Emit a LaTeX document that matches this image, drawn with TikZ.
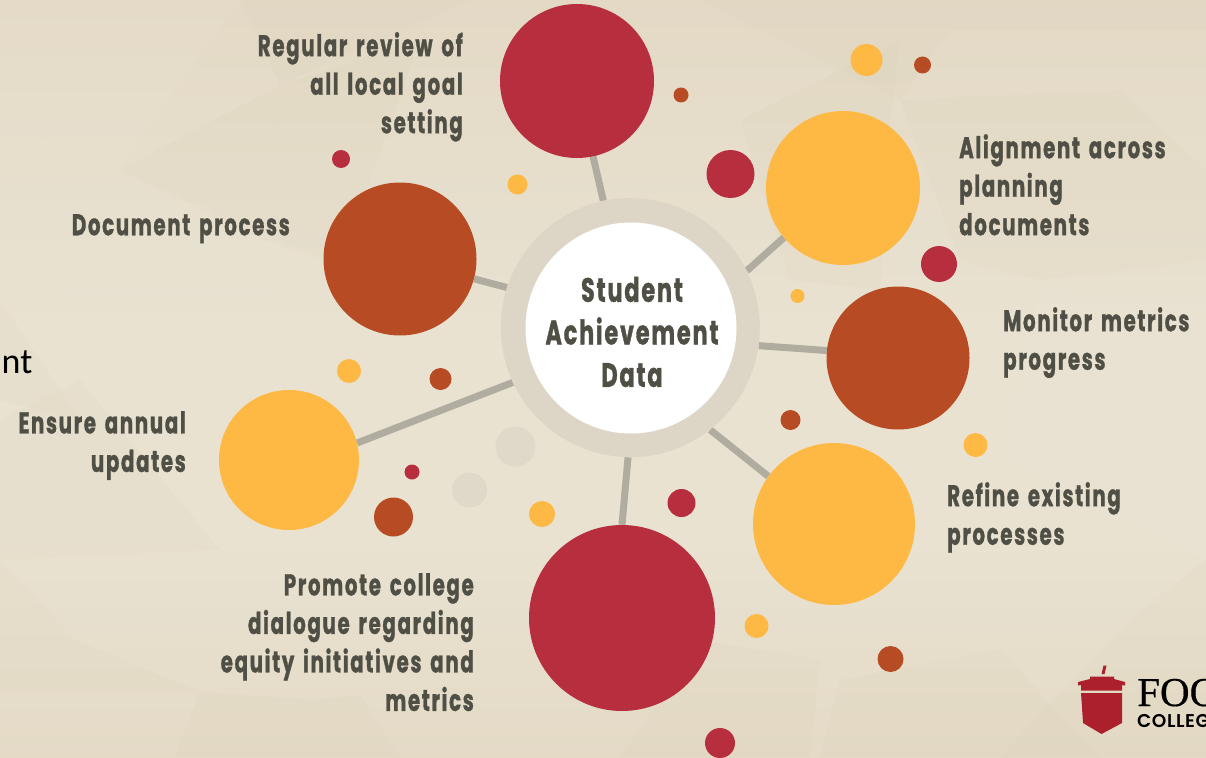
\documentclass[tikz,border=0pt]{standalone}
\usepackage{fontspec}
\usetikzlibrary{backgrounds}
\setmainfont{Carlito}
\newfontfamily\lblfont[FakeStretch=0.66,LetterSpace=5.5,WordSpace=1.5,FakeBold=1]{Poppins Bold}
\newfontfamily\logofont[FakeBold=0.4]{Liberation Serif}
\newfontfamily\logosans[LetterSpace=3]{Poppins SemiBold}
\definecolor{bgtop}{HTML}{E3D9C5}
\definecolor{bgmid}{HTML}{E9E2D1}
\definecolor{bgbot}{HTML}{E4DAC6}
\definecolor{facetd}{HTML}{D9CDB6}
\definecolor{facetl}{HTML}{EFE9DB}
\definecolor{cred}{HTML}{B72F3F}
\definecolor{corange}{HTML}{FEB945}
\definecolor{cbrown}{HTML}{B74B23}
\definecolor{cgrey}{HTML}{B0ACA0}
\definecolor{cring}{HTML}{DDD6C7}
\definecolor{cfaint}{HTML}{DFD9CA}
\definecolor{ctext}{HTML}{4F4F45}
\definecolor{clogo}{HTML}{AC1F2D}
\tikzset{
  dot/.style={circle,inner sep=0pt,draw=none,minimum size=#1*2pt},
  link/.style={draw=cgrey,line width=7pt},
  lbl/.style={font=\lblfont\fontsize{30}{38.5}\selectfont,text=ctext,inner sep=0pt},
  facet/.style={draw=none,fill opacity=.12}
}
\begin{document}
\begin{tikzpicture}[x=1pt,y=-1pt]
\useasboundingbox (0,0) rectangle (1206,757);
\clip (0,0) rectangle (1206,757);
% hub
\node[circle,fill=cring,draw=none,inner sep=0pt,minimum size=259pt] (hub) at (630.3,327.6) {};
% big circles
\node[dot=77,fill=cred] (review) at (577,81) {};
\node[dot=77,fill=corange] (align) at (843,188) {};
\node[dot=71.5,fill=cbrown] (monitor) at (898,358) {};
\node[dot=81,fill=corange] (refine) at (834,524) {};
\node[dot=93,fill=cred] (promote) at (622,618) {};
\node[dot=70,fill=corange] (ensure) at (289,460) {};
\node[dot=76.5,fill=cbrown] (document) at (400,259) {};
\begin{scope}[on background layer]
\shade[top color=bgtop,bottom color=bgmid] (0,0) rectangle (1206,330);
\shade[top color=bgmid,bottom color=bgmid] (0,330) rectangle (1206,540);
\shade[top color=bgmid,bottom color=bgbot] (0,540) rectangle (1206,757);
% background facets
\fill[facet,facetl] (0,0) -- (240,0) -- (120,170) -- (0,120) -- cycle;
\fill[facet,facetd] (120,170) -- (280,85) -- (265,240) -- cycle;
\fill[facet,facetd] (280,85) -- (420,40) -- (340,265) -- (265,240) -- cycle;
\fill[facet,facetd] (240,0) -- (470,0) -- (280,85) -- cycle;
\fill[facet,facetl] (0,120) -- (340,265) -- (250,300) -- (0,290) -- cycle;
\fill[facet,facetd] (0,300) -- (80,420) -- (0,400) -- cycle;
\fill[facet,facetd] (80,380) -- (220,550) -- (0,560) -- (0,420) -- cycle;
\fill[facet,facetd] (0,560) -- (75,640) -- (200,692) -- (0,692) -- cycle;
\fill[facet,facetd] (200,692) -- (315,700) -- (400,757) -- (175,757) -- cycle;
\fill[facet,facetd] (315,700) -- (360,695) -- (400,757) -- cycle;
\fill[facet,facetd] (700,0) -- (1206,0) -- (1206,30) -- (950,30) -- (900,100) -- cycle;
\fill[facet,facetd] (900,100) -- (1120,90) -- (1206,170) -- (1206,260) -- (1040,280) -- (960,260) -- cycle;
\fill[facet,facetd] (740,120) -- (900,40) -- (890,125) -- (880,290) -- (790,280) -- cycle;
\fill[facet,facetl] (1040,290) -- (1206,300) -- (1206,560) -- (1000,460) -- cycle;
\fill[facet,facetd] (1206,560) -- (1206,757) -- (1000,757) -- (1130,620) -- cycle;
\fill[facet,facetd] (700,640) -- (820,660) -- (810,757) -- (620,757) -- cycle;
\fill[facet,facetd] (840,680) -- (1000,650) -- (1100,757) -- (820,757) -- cycle;
\foreach \n/\a/\b in {review/282.2/102.3,document/345.2/162.6,align/220.8/26.7,monitor/174.4/352.2,refine/144/308.4,promote/90/269.9,ensure/14.8/205.1}
  \draw[link] (\n.\a) -- (hub.\b);
\end{scope}
\node[circle,fill=white,draw=none,inner sep=0pt,minimum size=211pt] (hubin) at (631,328) {};
\node[font=\lblfont\fontsize{33.8}{42.5}\selectfont,text=ctext,align=center,inner sep=0pt] (hubtext) at (632,332) {Student\\Achievement\\Data};
% small dots
\node[dot=16,fill=corange] (d1) at (866.5,60) {};
\node[dot=8.5,fill=cbrown] (d2) at (922.5,65) {};
\node[dot=7.5,fill=cbrown] (d3) at (681,95) {};
\node[dot=24,fill=cred] (d4) at (730.5,174) {};
\node[dot=18,fill=cred] (d5) at (939,264) {};
\node[dot=7,fill=corange] (d6) at (797.5,296) {};
\node[dot=10,fill=cbrown] (d7) at (790.5,420) {};
\node[dot=12,fill=corange] (d8) at (975.5,445) {};
\node[dot=14,fill=cred] (d9) at (681.5,503) {};
\node[dot=12,fill=corange] (d10) at (756.5,626) {};
\node[dot=13,fill=cbrown] (d11) at (890.5,659) {};
\node[dot=15,fill=cred] (d12) at (720,743) {};
\node[dot=13,fill=corange] (d13) at (542,514) {};
\node[dot=19.5,fill=cbrown] (d14) at (393.5,517) {};
\node[dot=7.5,fill=cred] (d15) at (412,472) {};
\node[dot=12,fill=corange] (d16) at (349,371) {};
\node[dot=11,fill=cbrown] (d17) at (440.5,379) {};
\node[dot=9,fill=cred] (d18) at (341,159) {};
\node[dot=10,fill=corange] (d19) at (517.5,184.5) {};
\node[dot=20,fill=cfaint] (d20) at (515.5,446.5) {};
\node[dot=17.5,fill=cfaint] (d21) at (469.5,490) {};
% labels
\node[lbl,align=right,anchor=north east] (t1) at (463,32) {Regular review of\\all local goal\\setting};
\node[lbl,align=left,anchor=north west] (t2) at (959,134) {Alignment across\\planning\\documents};
\node[lbl,align=right,anchor=north east] (t3) at (290,214) {Document process};
\node[lbl,align=left,anchor=north west] (t4) at (1003,307) {Monitor metrics\\progress};
\node[lbl,align=right,anchor=north east] (t5) at (186,411) {Ensure annual\\updates};
\node[lbl,align=left,anchor=north west] (t6) at (947,482) {Refine existing\\processes};
\node[lbl,align=right,anchor=north east] (t7) at (474,573) {Promote college\\dialogue regarding\\equity initiatives and\\metrics};
\node[font=\fontsize{36}{40}\selectfont,text=black,inner sep=0pt,anchor=base west] (cut) at (1.5,373) {nt};
% logo
\fill[clogo] (1101.5,674) -- (1103.5,665.5) -- (1106.5,665.5) -- (1104.5,674) -- cycle;
\fill[clogo] (1078,682) -- (1090,679) -- (1090,676.5) -- (1114,676.5) -- (1114,679) -- (1125,682) -- (1125,685.5) -- (1122,685) -- (1122,690.5) -- (1081,690.5) -- (1081,685) -- (1078,685.5) -- cycle;
\fill[clogo] (1081,693) -- (1122,693) -- (1122,723) -- (1101.5,734) -- (1083,723) -- cycle;
\node[font=\logofont\fontsize{41}{41}\selectfont,inner sep=0pt,anchor=base west,text=black] (logo1) at (1137,706) {FOO};
\node[font=\logosans\fontsize{18.5}{18.5}\selectfont,inner sep=0pt,anchor=base west,text=black] (logo2) at (1137,727) {COLLEG};
\end{tikzpicture}
\end{document}
